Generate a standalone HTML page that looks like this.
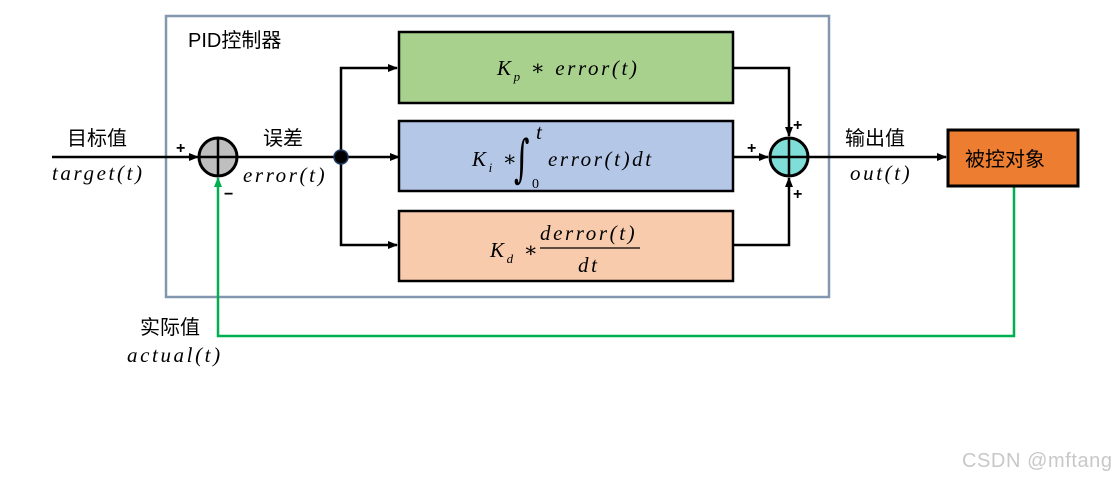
<!DOCTYPE html>
<html><head><meta charset="utf-8"><style>
html,body{margin:0;padding:0;background:#fff;}
svg{display:block;}
.cn{font-family:"Liberation Sans","Noto Sans CJK SC",sans-serif;font-size:20px;fill:#000;}
.m{font-family:"Liberation Serif","DejaVu Serif",serif;font-style:italic;font-size:21px;fill:#000;letter-spacing:2.6px;}
.p{font-family:"Liberation Sans",sans-serif;font-size:16px;font-weight:bold;fill:#000;}
</style></head><body>
<svg width="1116" height="479" viewBox="0 0 1116 479" xmlns="http://www.w3.org/2000/svg">
<defs>
<marker id="a" markerWidth="10" markerHeight="8" refX="9" refY="4" orient="auto" markerUnits="userSpaceOnUse"><path d="M0,0 L10,4 L0,8 Z" fill="#000"/></marker>
<marker id="g" markerWidth="10" markerHeight="8" refX="9" refY="4" orient="auto" markerUnits="userSpaceOnUse"><path d="M0,0 L10,4 L0,8 Z" fill="#00b050"/></marker>
</defs>
<rect x="166" y="16" width="663" height="281" fill="none" stroke="#8497b0" stroke-width="2.5"/>
<text x="188" y="47" class="cn">PID控制器</text>

<g stroke="#000" stroke-width="2.5" fill="none">
<line x1="52" y1="157" x2="198" y2="157" marker-end="url(#a)"/>
<line x1="237" y1="157" x2="399" y2="157" marker-end="url(#a)"/>
<polyline points="341,157 341,68 397,68" marker-end="url(#a)"/>
<polyline points="341,157 341,245 397,245" marker-end="url(#a)"/>
<polyline points="733,68 789,68 789,136" marker-end="url(#a)"/>
<polyline points="733,245 789,245 789,178" marker-end="url(#a)"/>
<line x1="733" y1="157" x2="768" y2="157" marker-end="url(#a)"/>
<line x1="808" y1="157" x2="946" y2="157" marker-end="url(#a)"/>
</g>
<polyline points="1014,186 1014,336 218,336 218,178" fill="none" stroke="#00b050" stroke-width="2.5" marker-end="url(#g)"/>

<rect x="399" y="32" width="334" height="71" fill="#a9d18e" stroke="#000" stroke-width="2.5"/>
<rect x="399" y="121" width="334" height="70" fill="#b4c7e7" stroke="#000" stroke-width="2.5"/>
<rect x="399" y="211" width="334" height="70" fill="#f8cbad" stroke="#000" stroke-width="2.5"/>
<rect x="948" y="130" width="130" height="56" fill="#ed7d31" stroke="#000" stroke-width="3"/>

<circle cx="218" cy="157" r="19" fill="#bfbfbf" stroke="#000" stroke-width="3"/>
<line x1="199" y1="157" x2="237" y2="157" stroke="#000" stroke-width="2.5"/>
<line x1="218" y1="138" x2="218" y2="176" stroke="#000" stroke-width="2.5"/>
<circle cx="789" cy="157" r="19" fill="#7fded8" stroke="#000" stroke-width="3"/>
<line x1="770" y1="157" x2="808" y2="157" stroke="#000" stroke-width="2.5"/>
<line x1="789" y1="138" x2="789" y2="176" stroke="#000" stroke-width="2.5"/>
<circle cx="341" cy="157" r="7" fill="#000" stroke="#1f3864" stroke-width="1.5"/>

<text x="176" y="153" class="p">+</text>
<text x="224" y="199" class="p">−</text>
<text x="747" y="153" class="p">+</text>
<text x="793" y="130" class="p">+</text>
<text x="793" y="199" class="p">+</text>

<text x="67" y="145" class="cn">目标值</text>
<text x="52" y="180" class="m">target(t)</text>
<text x="263" y="145" class="cn">误差</text>
<text x="243" y="182" class="m">error(t)</text>
<text x="845" y="145" class="cn">输出值</text>
<text x="850" y="180" class="m">out(t)</text>
<text x="965" y="166" class="cn">被控对象</text>
<text x="140" y="334" class="cn">实际值</text>
<text x="127" y="362" class="m">actual(t)</text>

<text x="497" y="75" class="m">K<tspan font-size="13" dy="6">p</tspan><tspan dy="-6" font-style="normal"> ∗ </tspan>error(t)</text>
<text x="472" y="166" class="m">K<tspan font-size="13" dy="6">i</tspan><tspan dy="-6" font-style="normal"> ∗</tspan></text>
<text x="0" y="0" font-family="DejaVu Serif,serif" font-size="30" transform="translate(514,176) scale(1,1.7)">∫</text>
<text x="536" y="139" class="m" font-size="14">t</text>
<text x="532" y="188" font-family="Liberation Serif,serif" font-size="14">0</text>
<text x="548" y="166" class="m">error(t)dt</text>
<text x="490" y="257" class="m">K<tspan font-size="13" dy="6">d</tspan><tspan dy="-6" font-style="normal"> ∗</tspan></text>
<text x="540" y="240" class="m">derror(t)</text>
<line x1="540" y1="248" x2="640" y2="248" stroke="#000" stroke-width="1.2"/>
<text x="578" y="272" class="m">dt</text>

<text x="962" y="467" font-family="Liberation Sans,sans-serif" font-size="20" fill="#c8c8c8" textLength="150">CSDN @mftang</text>
</svg>
</body></html>
